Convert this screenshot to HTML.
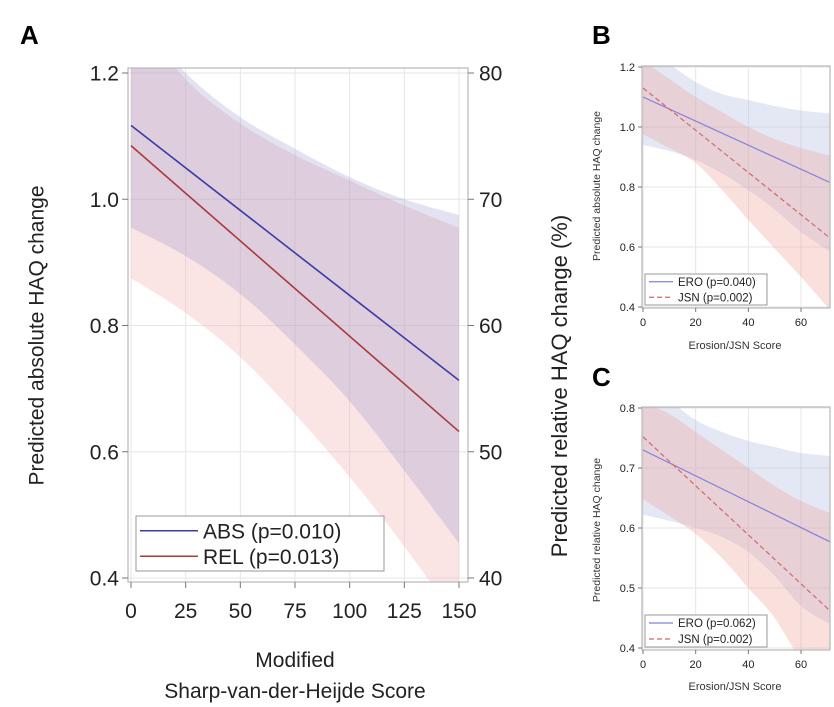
<!DOCTYPE html>
<html><head><meta charset="utf-8"><style>
body{margin:0;background:#fff;}
svg{display:block;font-family:"Liberation Sans",sans-serif;}
</style></head><body>
<svg id="chart" width="834" height="702" viewBox="0 0 834 702"></svg>
<script>
// ---- Panel A data ----
const aXTicks=[0,25,50,75,100,125,150];
const aYTicks=[0.4,0.6,0.8,1.0,1.2];
const aY2Ticks=[40,50,60,70,80];
const aBandX=[0,25,50,75,100,125,150];
const absLine=[1.117,0.713];
const relLine=[1.085,0.632];
const absUpper=[1.30,1.20,1.13,1.08,1.035,1.00,0.975];
const absLower=[0.955,0.91,0.85,0.77,0.68,0.57,0.455];
const relUpper=[1.30,1.19,1.12,1.07,1.03,0.99,0.955];
const relLower=[0.875,0.82,0.75,0.66,0.56,0.45,0.33];
// ---- Panel B data ----
const bcXTicks=[0,20,40,60];
const bYTicks=[0.4,0.6,0.8,1.0,1.2];
const bcBandX=[0,10,20,30,40,50,60,71];
const bEro=[1.10,0.815];
const bJsn=[1.13,0.63];
const bEroUpper=[1.27,1.21,1.15,1.11,1.09,1.07,1.055,1.045];
const bEroLower=[0.94,0.92,0.89,0.845,0.79,0.725,0.65,0.585];
const bJsnUpper=[1.22,1.16,1.10,1.05,1.00,0.96,0.93,0.905];
const bJsnLower=[0.975,0.93,0.88,0.79,0.69,0.595,0.50,0.39];
// ---- Panel C data ----
const cYTicks=[0.4,0.5,0.6,0.7,0.8];
const cEro=[0.730,0.577];
const cJsn=[0.752,0.462];
const cEroUpper=[0.86,0.815,0.78,0.76,0.745,0.735,0.725,0.72];
const cEroLower=[0.622,0.612,0.60,0.585,0.56,0.52,0.47,0.44];
const cJsnUpper=[0.81,0.79,0.76,0.73,0.70,0.67,0.645,0.625];
const cJsnLower=[0.648,0.62,0.59,0.55,0.50,0.45,0.38,0.33];

const NS="http://www.w3.org/2000/svg";
const svg=document.getElementById('chart');
function el(tag,attrs,parent,text){const e=document.createElementNS(NS,tag);for(const k in attrs)e.setAttribute(k,attrs[k]);if(text!==undefined)e.textContent=text;(parent||svg).appendChild(e);return e;}

function smoothPath(pts,move){
  let d=(move?'M':'L')+pts[0][0]+','+pts[0][1];
  for(let i=0;i<pts.length-1;i++){
    const p0=pts[Math.max(0,i-1)],p1=pts[i],p2=pts[i+1],p3=pts[Math.min(pts.length-1,i+2)];
    const c1=[p1[0]+(p2[0]-p0[0])/6,p1[1]+(p2[1]-p0[1])/6];
    const c2=[p2[0]-(p3[0]-p1[0])/6,p2[1]-(p3[1]-p1[1])/6];
    d+='C'+c1[0]+','+c1[1]+' '+c2[0]+','+c2[1]+' '+p2[0]+','+p2[1];
  }
  return d;
}

function panel(p){
  const g=el('g',{});
  
  
  const sx=v=>p.x0+(v-p.xmin)/(p.xmax-p.xmin)*(p.x1-p.x0);
  const sy=v=>p.y0-(v-p.ymin)/(p.ymax-p.ymin)*(p.y0-p.y1);
  const cid='clip'+p.name;
  const defs=el('defs',{},g);const cp=el('clipPath',{id:cid},defs);
  el('rect',{x:p.bx0,y:p.by0,width:p.bx1-p.bx0,height:p.by1-p.by0},cp);
  p.xTicks.forEach(t=>{const l=el('line',{x1:sx(t),x2:sx(t),y1:p.by0,y2:p.by1,stroke:'#e6e6e6','stroke-width':1},g);});
  p.yTicks.forEach(t=>{const l=el('line',{x1:p.bx0,x2:p.bx1,y1:sy(t),y2:sy(t),stroke:'#e6e6e6','stroke-width':1},g);});
  const cg=el('g',{'clip-path':'url(#'+cid+')'},g);
  p.bands.forEach(b=>{
    const up=b.x.map((x,i)=>[sx(x),sy(b.up[i])]);
    const lo=b.x.map((x,i)=>[sx(x),sy(b.lo[i])]).reverse();
    const d=smoothPath(up,true)+smoothPath(lo,false)+'Z';
    const path=el('path',{d:d,fill:b.fill},cg);
    
    
  });
  p.lines.forEach(L=>{
    const ln=el('line',{x1:sx(p.xmin),y1:sy(L.v[0]),x2:sx(p.xmax),y2:sy(L.v[1]),stroke:L.color,'stroke-width':L.w,'stroke-dasharray':L.dash||'none'},cg);
    
    
  });
  const fr=el('rect',{x:p.bx0,y:p.by0,width:p.bx1-p.bx0,height:p.by1-p.by0,fill:'none',stroke:'#b8b8b8','stroke-width':1.2},g);
  
  p.xTicks.forEach(t=>{el('line',{x1:sx(t),x2:sx(t),y1:p.by1,y2:p.by1+p.tl,stroke:'#777'},g);
    const tx=el('text',{x:sx(t),y:p.by1+p.tl+p.fs+p.xOff,'font-size':p.fs,'text-anchor':'middle',fill:'#222'},g,String(t));
    });
  p.yTicks.forEach(t=>{el('line',{x1:p.bx0-p.tl,x2:p.bx0,y1:sy(t),y2:sy(t),stroke:'#777'},g);
    const tx=el('text',{x:p.bx0-p.tl-3,y:sy(t)+p.fs*0.36,'font-size':p.fs,'text-anchor':'end',fill:'#222'},g,t.toFixed(1));
    });
  if(p.y2Ticks){p.y2Ticks.forEach((t,i)=>{const y=sy(p.yTicks[i]);el('line',{x1:p.bx1,x2:p.bx1+p.tl,y1:y,y2:y,stroke:'#777'},g);
    const tx=el('text',{x:p.bx1+p.tl+5,y:y+p.fs*0.36,'font-size':p.fs,'text-anchor':'start',fill:'#222'},g,String(t));
    });}
  const lg=el('g',{},g);
  el('rect',{x:p.leg[0],y:p.leg[1],width:p.leg[2],height:p.leg[3],fill:'#fff',stroke:'#999','stroke-width':1},lg);
  p.lines.forEach((L,i)=>{const yy=p.leg[1]+p.leg[3]*(i+0.5)/2+ (i?-1:1)*p.legAdj;
    el('line',{x1:p.leg[0]+4,x2:p.leg[0]+p.legLine,y1:yy,y2:yy,stroke:L.color,'stroke-width':L.w,'stroke-dasharray':L.dash||'none'},lg);
    const tx=el('text',{x:p.leg[0]+p.legLine+5,y:yy+p.legFs*0.36,'font-size':p.legFs,fill:'#222'},lg,L.label);
    });
}

panel({name:'panel-a',xmin:0,xmax:150,ymin:0.4,ymax:1.2,x0:131,x1:459,y0:578,y1:73,bx0:128,bx1:468,by0:68,by1:582,tl:6,fs:21,xOff:9,
  xTicks:aXTicks,yTicks:aYTicks,y2Ticks:aY2Ticks,
  bands:[{name:'rel-ci-band',x:aBandX,up:relUpper,lo:relLower,fill:'rgba(238,170,170,0.32)'},
         {name:'abs-ci-band',x:aBandX,up:absUpper,lo:absLower,fill:'rgba(150,150,205,0.28)'}],
  lines:[{name:'abs-line',v:absLine,color:'#3b3ba8',w:1.6,label:'ABS (p=0.010)'},{name:'rel-line',v:relLine,color:'#a83a3a',w:1.6,label:'REL (p=0.013)'}],
  leg:[136,516,248,55],legLine:62,legFs:21,legAdj:1});
panel({name:'panel-b',xmin:0,xmax:71,ymin:0.4,ymax:1.2,x0:643,x1:830,y0:307,y1:67,bx0:642,bx1:830,by0:66,by1:308,tl:4,fs:11,xOff:3,
  xTicks:bcXTicks,yTicks:bYTicks,
  bands:[{name:'ero-ci-band',x:bcBandX,up:bEroUpper,lo:bEroLower,fill:'rgba(170,185,225,0.32)'},
         {name:'jsn-ci-band',x:bcBandX,up:bJsnUpper,lo:bJsnLower,fill:'rgba(240,160,150,0.32)'}],
  lines:[{name:'ero-line',v:bEro,color:'#8080e0',w:1.2,label:'ERO (p=0.040)'},{name:'jsn-line',v:bJsn,color:'#d06a6a',w:1.2,dash:'5,3',label:'JSN (p=0.002)'}],
  leg:[645,274,122,31],legLine:28,legFs:11.5,legAdj:0});
panel({name:'panel-c',xmin:0,xmax:71,ymin:0.4,ymax:0.8,x0:643,x1:830,y0:648,y1:408,bx0:642,bx1:830,by0:407,by1:650,tl:4,fs:11,xOff:3,
  xTicks:bcXTicks,yTicks:cYTicks,
  bands:[{name:'ero-ci-band',x:bcBandX,up:cEroUpper,lo:cEroLower,fill:'rgba(170,185,225,0.32)'},
         {name:'jsn-ci-band',x:bcBandX,up:cJsnUpper,lo:cJsnLower,fill:'rgba(240,160,150,0.32)'}],
  lines:[{name:'ero-line',v:cEro,color:'#8080e0',w:1.2,label:'ERO (p=0.062)'},{name:'jsn-line',v:cJsn,color:'#d06a6a',w:1.2,dash:'5,3',label:'JSN (p=0.002)'}],
  leg:[645,615,122,32],legLine:28,legFs:11.5,legAdj:0});
</script>
<div style="position:absolute;left:0;top:0;width:834px;height:702px;pointer-events:none;font-family:'Liberation Sans',sans-serif;">
  <div style="position:absolute;left:20px;top:20px;font-size:26px;font-weight:bold;">A</div>
  <div style="position:absolute;left:592px;top:20px;font-size:26px;font-weight:bold;">B</div>
  <div style="position:absolute;left:592px;top:362px;font-size:26px;font-weight:bold;">C</div>
  <div style="position:absolute;left:37px;top:325px;width:420px;margin-left:-210px;text-align:center;transform:rotate(-90deg);font-size:21px;line-height:21px;color:#222;">Predicted absolute HAQ change</div>
  <div style="position:absolute;left:560px;top:375px;width:520px;margin-left:-260px;text-align:center;transform:rotate(-90deg);font-size:22px;line-height:22px;color:#222;">Predicted relative HAQ change (%)</div>
  <div style="position:absolute;left:95px;top:645px;width:400px;text-align:center;font-size:21px;line-height:31px;color:#222;">Modified<br>Sharp-van-der-Heijde Score</div>
  <div style="position:absolute;left:597px;top:181px;width:250px;margin-left:-125px;text-align:center;transform:rotate(-90deg);font-size:10.5px;line-height:10px;color:#333;">Predicted absolute HAQ change</div>
  <div style="position:absolute;left:660px;top:340px;width:150px;text-align:center;font-size:11px;color:#333;">Erosion/JSN Score</div>
  <div style="position:absolute;left:597px;top:525px;width:250px;margin-left:-125px;text-align:center;transform:rotate(-90deg);font-size:10.5px;line-height:10px;color:#333;">Predicted relative HAQ change</div>
  <div style="position:absolute;left:660px;top:681px;width:150px;text-align:center;font-size:11px;color:#333;">Erosion/JSN Score</div>
</div>
</body></html>
